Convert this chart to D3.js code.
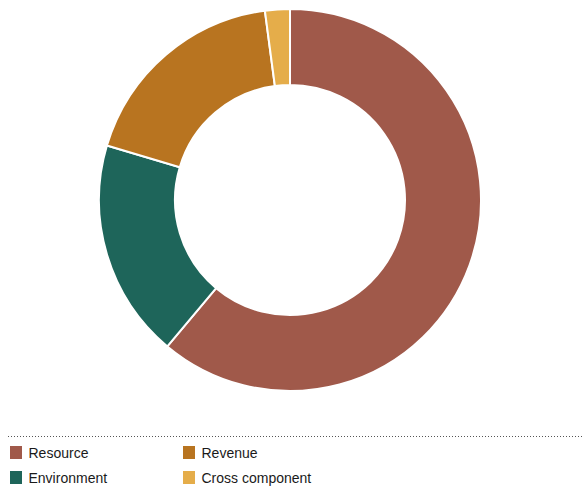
<!DOCTYPE html>
<html>
<head>
<meta charset="utf-8">
<script src="https://cdn.jsdelivr.net/npm/d3@7"></script>
<style>
  body { margin: 0; background: #fff; }
  svg { display: block; font-family: "Liberation Sans", Arial, sans-serif; }
</style>
</head>
<body>
<svg width="584" height="493"></svg>
<script>
// chart data
var categories = ["Resource", "Environment", "Revenue", "Cross component"];
var values = [61.1, 18.5, 18.3, 2.1];
var colors = ["#a0594a", "#1e655a", "#b87420", "#e5ad4a"];

var svg = d3.select("svg");

var data = categories.map(function(c, i) { return {name: c, value: values[i]}; });

var color = d3.scaleOrdinal().domain(categories).range(colors);

var pie = d3.pie().sort(null).value(function(d) { return d.value; });
var arc = d3.arc().innerRadius(115).outerRadius(191);

var g = svg.append("g").attr("transform", "translate(290,200)");

g.selectAll("path")
  .data(pie(data))
  .enter()
  .append("path")
  .attr("d", arc)
  .attr("fill", function(d) { return color(d.data.name); })
  .attr("stroke", "#fff")
  .attr("stroke-width", 2);

// legend
svg.append("line")
  .attr("x1", 8).attr("x2", 584)
  .attr("y1", 436.5).attr("y2", 436.5)
  .attr("stroke", "#555")
  .attr("stroke-width", 1)
  .attr("stroke-dasharray", "1,2");

var legend = svg.selectAll("g.legend")
  .data(data)
  .enter()
  .append("g")
  .attr("class", "legend")
  .attr("transform", function(d, i) {
    var x = Math.floor(i / 2) * 173 + 10;
    var y = (i % 2) * 25 + 446;
    return "translate(" + [x, y] + ")";
  });

legend.append("rect")
  .attr("width", 12)
  .attr("height", 13)
  .attr("fill", function(d) { return color(d.name); });

legend.append("text")
  .attr("x", 18.5)
  .attr("y", 11.5)
  .attr("font-size", 14)
  .attr("fill", "#1a1a1a")
  .text(function(d) { return d.name; });
</script>
</body>
</html>
